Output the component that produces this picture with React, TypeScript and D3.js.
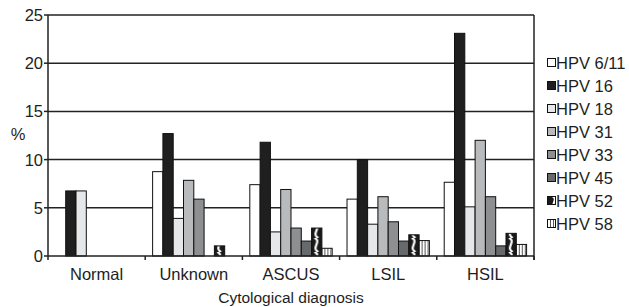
import * as d3 from 'd3';

const categories = ['Normal', 'Unknown', 'ASCUS', 'LSIL', 'HSIL'];
const seriesNames = ['HPV 6/11', 'HPV 16', 'HPV 18', 'HPV 31', 'HPV 33', 'HPV 45', 'HPV 52', 'HPV 58'];

// % per cytological diagnosis, one array per HPV type (order follows categories)
const hpv611 = [0, 8.75, 7.4, 5.9, 7.65];
const hpv16 = [6.75, 12.7, 11.8, 10.0, 23.1];
const hpv18 = [6.75, 3.9, 2.5, 3.3, 5.1];
const hpv31 = [0, 7.85, 6.9, 6.15, 12.0];
const hpv33 = [0, 5.9, 2.9, 3.55, 6.15];
const hpv45 = [0, 0, 1.55, 1.55, 1.05];
const hpv52 = [0, 1.05, 2.9, 2.2, 2.35];
const hpv58 = [0, 0, 0.8, 1.6, 1.2];

const yTicks = [0, 5, 10, 15, 20, 25];

const seriesValues = [hpv611, hpv16, hpv18, hpv31, hpv33, hpv45, hpv52, hpv58];
const fills = ['#ffffff', '#1f1f1f', '#e6e7e8', '#b9babc', '#8e8f91', '#68696b', 'url(#p52)', 'url(#p58)'];

const W = 629;
const H = 307;
const FONT = "'Liberation Sans', Arial, Helvetica, sans-serif";
const LINE = '#222';
const TEXT = '#1e1e1e';

export default function App() {
  const x = d3.scaleBand<string>().domain(categories).range([48, 534]).padding(0);
  const inner = d3.scaleBand<string>().domain(seriesNames).range([0, x.bandwidth()]).paddingInner(0).paddingOuter(0.72);
  const y = d3.scaleLinear().domain([0, 25]).range([256, 15]);

  const bounds = [...categories.map(c => x(c) as number), 534];

  return (
    <svg width={W} height={H} style={{ position: 'absolute', left: 0, top: 0, background: '#fff', fontFamily: FONT }}>
      <defs>
        <pattern id="p52" patternUnits="userSpaceOnUse" width="10" height="14">
          <rect width="10" height="14" fill="#1a1a1a" />
          <path d="M2,0 C10,3 -2,10 6,14" fill="none" stroke="#fff" strokeWidth="2.2" />
        </pattern>
        <pattern id="p58" patternUnits="userSpaceOnUse" width="3" height="3">
          <rect width="3" height="3" fill="#fff" />
          <line x1="1.5" y1="0" x2="1.5" y2="3" stroke="#555" strokeWidth="1" />
        </pattern>
      </defs>

      {/* gridlines */}
      {yTicks.slice(1).map(t => (
        <line key={t} x1={48} x2={534} y1={y(t)} y2={y(t)} stroke={LINE} strokeWidth={1.5} />
      ))}

      {/* bars */}
      {categories.map((c, ci) => (
        <g key={c} transform={`translate(${x(c)},0)`}>
          {seriesNames.map((s, si) => {
            const v = seriesValues[si][ci];
            if (v <= 0) return null;
            return (
              <rect
                key={s}
                x={inner(s)}
                y={y(v)}
                width={inner.bandwidth()}
                height={y(0) - y(v)}
                fill={fills[si]}
                stroke="#111"
                strokeWidth={1}
              />
            );
          })}
        </g>
      ))}

      {/* axes */}
      <line x1={48} x2={48} y1={y(25)} y2={y(0)} stroke={LINE} strokeWidth={1.5} />
      <line x1={534} x2={534} y1={y(25)} y2={y(0) + 4} stroke={LINE} strokeWidth={1.5} />
      <line x1={48} x2={534} y1={y(0)} y2={y(0)} stroke={LINE} strokeWidth={1.5} />
      {bounds.map((b, i) => (
        <line key={i} x1={b} x2={b} y1={y(0)} y2={y(0) + 4} stroke={LINE} strokeWidth={1.5} />
      ))}
      {yTicks.map(t => (
        <g key={t}>
          <line x1={44} x2={48} y1={y(t)} y2={y(t)} stroke={LINE} strokeWidth={1.5} />
          <text x={43} y={y(t)} dy="0.36em" textAnchor="end" fontSize={16.5} fill={TEXT}>{t}</text>
        </g>
      ))}
      {categories.map(c => (
        <text key={c} x={(x(c) as number) + x.bandwidth() / 2} y={280} textAnchor="middle" fontSize={16.5} fill={TEXT}>{c}</text>
      ))}
      <text x={18} y={140} textAnchor="middle" fontSize={16.5} fill={TEXT}>%</text>
      <text x={291} y={303} textAnchor="middle" fontSize={15.5} fill={TEXT}>Cytological diagnosis</text>

      {/* legend */}
      {seriesNames.map((s, i) => {
        const by = 68.5 + i * 23;
        return (
          <g key={s}>
            <rect x={547.5} y={by - 10} width={8} height={8} fill={fills[i]} stroke="#111" strokeWidth={1} />
            <text x={556} y={by} fontSize={16.5} fill={TEXT}>{s}</text>
          </g>
        );
      })}
    </svg>
  );
}
